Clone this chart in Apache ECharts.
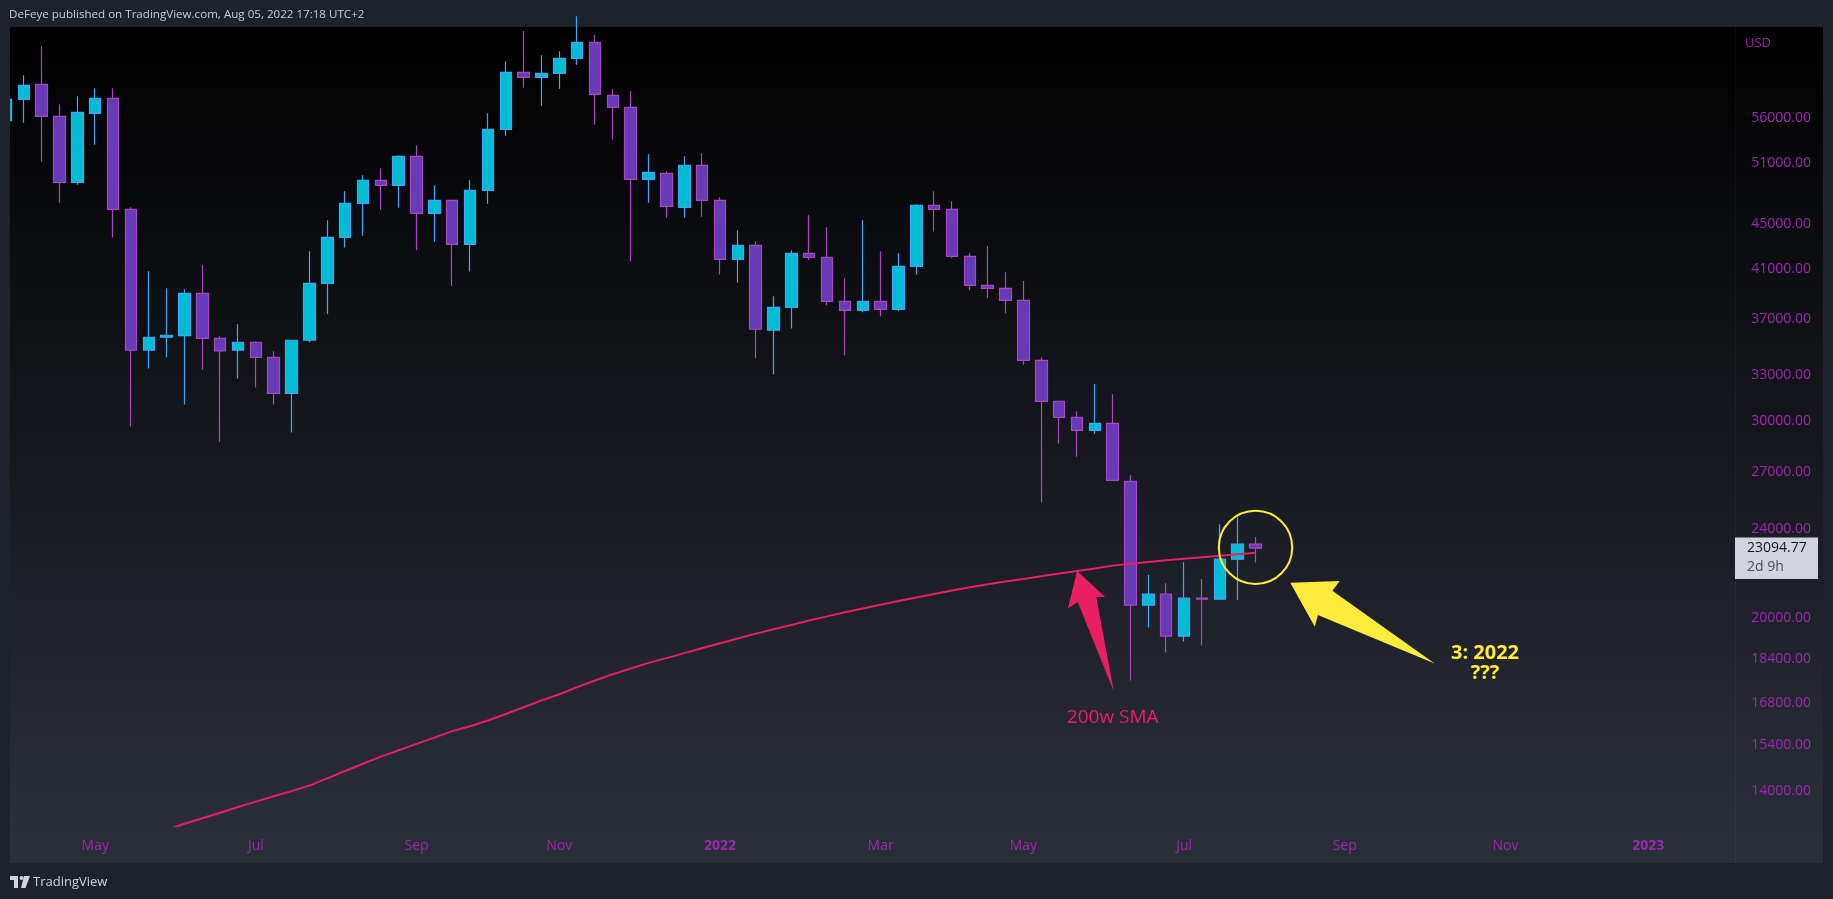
<!DOCTYPE html>
<html><head><meta charset="utf-8">
<script src="https://cdn.jsdelivr.net/npm/echarts@6/dist/echarts.min.js"></script>
<style>html,body{margin:0;padding:0;background:#1e222d;overflow:hidden}#c{width:1833px;height:899px}</style>
</head><body><div id="c"></div>
<script>
// ---- weekly BTC/USD candles (week start, Monday) ----
const weeks = ['2021-03-29','2021-04-05','2021-04-12','2021-04-19','2021-04-26','2021-05-03','2021-05-10','2021-05-17','2021-05-24','2021-05-31',
'2021-06-07','2021-06-14','2021-06-21','2021-06-28','2021-07-05','2021-07-12','2021-07-19','2021-07-26','2021-08-02','2021-08-09',
'2021-08-16','2021-08-23','2021-08-30','2021-09-06','2021-09-13','2021-09-20','2021-09-27','2021-10-04','2021-10-11','2021-10-18',
'2021-10-25','2021-11-01','2021-11-08','2021-11-15','2021-11-22','2021-11-29','2021-12-06','2021-12-13','2021-12-20','2021-12-27',
'2022-01-03','2022-01-10','2022-01-17','2022-01-24','2022-01-31','2022-02-07','2022-02-14','2022-02-21','2022-02-28','2022-03-07',
'2022-03-14','2022-03-21','2022-03-28','2022-04-04','2022-04-11','2022-04-18','2022-04-25','2022-05-02','2022-05-09','2022-05-16',
'2022-05-23','2022-05-30','2022-06-06','2022-06-13','2022-06-20','2022-06-27','2022-07-04','2022-07-11','2022-07-18','2022-07-25','2022-08-01'];
const opens = [55662,58160,59982,56161,49030,56508,58280,46381,34703,35644,
35766,39020,35570,34703,35279,34206,31764,35424,39831,43785,
46957,49232,48729,51724,46001,47248,43159,48230,54679,61481,
60852,61355,63277,65395,58641,57210,49334,49946,46572,50774,
47248,41848,43070,36161,37912,42367,42020,38383,37679,38383,
37757,41249,46765,46381,42107,39668,39423,38462,33993,31244,
30232,29434,29862,26502,20541,21011,19271,20839,20796,22580,23288];
const highs = [60000,61103,64903,57565,58520,59491,59491,46572,40827,39423,
39342,41334,35717,36609,35350,34631,35450,42542,45344,48131,
49741,50462,51830,52908,48729,47300,49232,56508,62888,66938,
63669,64195,69000,66389,59369,59125,51937,50152,51724,52044,
47540,44420,43426,38780,42630,45812,44695,40243,45344,42542,
42367,46861,48131,47151,42367,42982,40743,40018,34204,31300,
30608,32378,31697,26831,21849,21492,22441,21670,24266,24618,23626];
const lows = [54700,55434,51159,47022,48795,52981,43755,29659,33418,34183,
31032,33349,28758,32738,32137,31032,29295,35279,37370,42864,
43935,46349,46541,42630,43396,39640,40799,46925,53970,59572,
57407,59450,62459,55206,53529,41648,47022,45593,45593,45687,
40548,39886,34112,33008,36285,41762,38069,34324,37524,37217,
37602,40548,44299,41934,39261,38621,37447,33692,25370,28638,
27882,29233,26540,17593,19618,18635,19061,18905,20780,20753,22426];
const closes = [58160,59859,56161,49030,56625,58280,46381,34703,35644,35791,
39020,35570,34655,35279,34206,31764,35424,39831,43785,46957,
49232,48729,51724,46001,47248,43159,48230,54679,61481,60852,
61355,63277,65395,58761,57210,49334,50049,46668,50774,47248,
41848,43070,36235,37912,42367,42020,38383,37679,38383,37757,
41249,46765,46381,42107,39668,39423,38462,33993,31244,30232,
29434,29862,26557,20541,21011,19271,20839,20796,22580,23288,23094.77];

// ---- 200-week SMA ----
const smaDates = ['2021-05-31','2021-06-07','2021-06-14','2021-06-21','2021-06-28','2021-07-05','2021-07-12','2021-07-19','2021-07-26','2021-08-02',
'2021-08-09','2021-08-16','2021-08-23','2021-08-30','2021-09-06','2021-09-13','2021-09-20','2021-09-27','2021-10-04','2021-10-11',
'2021-10-18','2021-10-25','2021-11-01','2021-11-08','2021-11-15','2021-11-22','2021-11-29','2021-12-06','2021-12-13','2021-12-20',
'2021-12-27','2022-01-03','2022-01-10','2022-01-17','2022-01-24','2022-01-31','2022-02-07','2022-02-14','2022-02-21','2022-02-28',
'2022-03-07','2022-03-14','2022-03-21','2022-03-28','2022-04-04','2022-04-11','2022-04-18','2022-04-25','2022-05-02','2022-05-09',
'2022-05-16','2022-05-23','2022-05-30','2022-06-06','2022-06-13','2022-06-20','2022-06-27','2022-07-04','2022-07-11','2022-07-18',
'2022-07-25','2022-08-01'];
const smaValues = [12930,13100,13250,13400,13560,13710,13860,14010,14170,14380,
14600,14820,15040,15240,15440,15640,15850,16010,16200,16420,
16650,16880,17100,17350,17590,17820,18030,18240,18420,18610,
18800,18990,19180,19370,19550,19720,19900,20070,20240,20400,
20560,20720,20870,21020,21170,21310,21440,21560,21680,21800,
21920,22040,22150,22280,22370,22450,22530,22600,22670,22740,
22810,22880];

// ---- axis ticks ----
const priceTicks = [56000,51000,45000,41000,37000,33000,30000,27000,24000,20000,18400,16800,15400,14000];
const timeTicks = ['2021-05-03','2021-07-05','2021-09-06','2021-11-01','2022-01-03','2022-03-07','2022-05-02','2022-07-04','2022-09-05','2022-11-07','2023-01-02'];
const monthNames = ['Jan','Feb','Mar','Apr','May','Jun','Jul','Aug','Sep','Oct','Nov','Dec'];
const xRange = ['2021-03-30T13:40:00Z','2023-02-05T01:00:00Z'];
const yRange = [13039, 67491];

// annotation anchors (data space)
const smaArrowDate = '2022-05-23';
const countdown = '2d 9h';

const ts = s => { const p = s.split('-').map(Number); return Date.UTC(p[0], p[1]-1, p[2]); };
const FONT = '"Open Sans", "Noto Sans", sans-serif';
const PURPLE = '#9c27b0';

const chart = echarts.init(document.getElementById('c'));
chart.setOption({
  animation: false,
  backgroundColor: '#1e222d',
  grid: {left: 10, right: 98, top: 27, bottom: 73},
  xAxis: {
    type: 'value', min: Date.parse(xRange[0]), max: Date.parse(xRange[1]), scale: true,
    axisLine: {show: false}, axisTick: {show: false}, splitLine: {show: false},
    axisLabel: {
      customValues: timeTicks.map(ts), margin: 13, fontSize: 14, fontFamily: FONT, color: PURPLE,
      formatter: v => { const d = new Date(v); const m = d.getUTCMonth(); return m === 0 ? '{b|' + d.getUTCFullYear() + '}' : monthNames[m]; },
      rich: {b: {fontWeight: 'bold', fontSize: 14, fontFamily: FONT, color: PURPLE}}
    }
  },
  yAxis: {
    type: 'log', logBase: 10, min: yRange[0], max: yRange[1], position: 'right',
    axisLine: {show: false}, axisTick: {show: false}, splitLine: {show: false},
    axisLabel: {customValues: priceTicks, align: 'right', margin: 76, fontSize: 14, fontFamily: FONT, color: PURPLE,
      formatter: v => Math.round(v).toFixed(2)}
  },
  series: [{
    type: 'candlestick', barWidth: 12, clip: true,
    encode: {x: 0, y: [1, 2, 3, 4]},
    data: weeks.map((d, i) => [ts(d), opens[i], closes[i], lows[i], highs[i]]),
    itemStyle: {color: '#00bcd4', color0: '#673ab7', borderColor: '#42a5f5', borderColor0: '#ab47bc', borderWidth: 1.2}
  }, {
    type: 'line', showSymbol: false, symbol: 'none', z: 3, clip: true,
    data: smaDates.map((d, i) => [ts(d), smaValues[i]]),
    lineStyle: {color: '#e91e63', width: 2}
  }]
});

const px = (t, v) => chart.convertToPixel({gridIndex: 0}, [t, v]);
const lastIdx = weeks.length - 1;
const lastPt = px(ts(weeks[lastIdx]), closes[lastIdx]);
const smaPt = px(ts(smaArrowDate), smaValues[smaDates.indexOf(smaArrowDate)]);
const off = (o, pts) => pts.map(p => [o[0] + p[0], o[1] + p[1]]);
const yTip = [lastPt[0] + 34.8, lastPt[1] + 34.6];

chart.setOption({graphic: [
  {type: 'rect', z: -5, silent: true, shape: {x: 10, y: 27, width: 1813, height: 799},
   style: {fill: new echarts.graphic.LinearGradient(0, 0, 0, 1, [{offset: 0, color: '#000000'}, {offset: 1, color: '#2a2e39'}])}},
  {type: 'rect', z: -5, silent: true, shape: {x: 10, y: 826, width: 1813, height: 37}, style: {fill: '#2a2e39'}},
  {type: 'line', z: -4, silent: true, shape: {x1: 10, y1: 826.5, x2: 1823, y2: 826.5}, style: {stroke: '#262a34', lineWidth: 1}},
  {type: 'line', z: -4, silent: true, shape: {x1: 1735.5, y1: 27, x2: 1735.5, y2: 863}, style: {stroke: 'rgba(255,255,255,0.04)', lineWidth: 1}},
  // left frame strip keeps off-grid marks hidden
  {type: 'rect', z: 20, silent: true, shape: {x: 0, y: 27, width: 10, height: 836}, style: {fill: '#1e222d'}},
  {type: 'text', z: 5, x: 1745, y: 43, style: {text: 'USD', fill: PURPLE, fontSize: 13, fontFamily: FONT, verticalAlign: 'middle'}},
  {type: 'text', z: 5, x: 9, y: 15, style: {text: 'DeFeye published on TradingView.com, Aug 05, 2022 17:18 UTC+2', fill: '#c8cbd3', fontSize: 11.6, fontFamily: FONT, verticalAlign: 'middle'}},
  // TradingView logo
  {type: 'rect', z: 5, shape: {x: 10, y: 876, width: 8, height: 4}, style: {fill: '#d1d4dc'}},
  {type: 'rect', z: 5, shape: {x: 14, y: 876, width: 4, height: 12}, style: {fill: '#d1d4dc'}},
  {type: 'circle', z: 5, shape: {cx: 21.5, cy: 878, r: 2}, style: {fill: '#d1d4dc'}},
  {type: 'polygon', z: 5, shape: {points: [[24, 876], [30, 876], [25.5, 888], [21, 888]]}, style: {fill: '#d1d4dc'}},
  {type: 'text', z: 5, x: 33, y: 882, style: {text: 'TradingView', fill: '#d1d4dc', fontSize: 13, fontFamily: FONT, verticalAlign: 'middle'}},
  // last price label
  {type: 'rect', z: 6, shape: {x: 1735, y: lastPt[1] - 10.7, width: 83, height: 41.4}, style: {fill: '#d1d4dc'}},
  {type: 'text', z: 7, x: 1747, y: lastPt[1], style: {text: closes[lastIdx].toFixed(2), fill: '#131722', fontSize: 14, fontFamily: FONT, verticalAlign: 'middle'}},
  {type: 'text', z: 7, x: 1747, y: lastPt[1] + 19, style: {text: countdown, fill: '#4a4d57', fontSize: 14, fontFamily: FONT, verticalAlign: 'middle'}},
  // pink arrow to the 200w SMA
  {type: 'polygon', z: 10, shape: {points: off(smaPt, [[0, 0], [28.3, 26], [19.3, 26], [36.7, 120], [0.7, 31], [-9, 37.7]])}, style: {fill: '#e91e63'}},
  {type: 'text', z: 10, x: smaPt[0] + 35.7, y: smaPt[1] + 147, style: {text: '200w SMA', fill: '#e91e63', fontSize: 19, fontFamily: FONT, align: 'center', verticalAlign: 'middle'}},
  // yellow circle + arrow
  {type: 'circle', z: 10, shape: {cx: lastPt[0], cy: lastPt[1] - 0.8, r: 36.7}, style: {fill: 'none', stroke: '#ffeb3b', lineWidth: 2}},
  {type: 'polygon', z: 10, shape: {points: off(yTip, [[0, 0], [49.4, -1.7], [42.1, 8], [144.3, 80.6], [27.6, 32.3], [24.5, 44]])}, style: {fill: '#ffeb3b'}},
  {type: 'text', z: 10, x: lastPt[0] + 229.5, y: lastPt[1] + 105, style: {text: '3: 2022', fill: '#ffeb3b', fontSize: 20, fontWeight: 'bold', fontFamily: FONT, align: 'center', verticalAlign: 'middle'}},
  {type: 'text', z: 10, x: lastPt[0] + 229.5, y: lastPt[1] + 125, style: {text: '???', fill: '#ffeb3b', fontSize: 20, fontWeight: 'bold', fontFamily: FONT, align: 'center', verticalAlign: 'middle'}}
]});
</script></body></html>
